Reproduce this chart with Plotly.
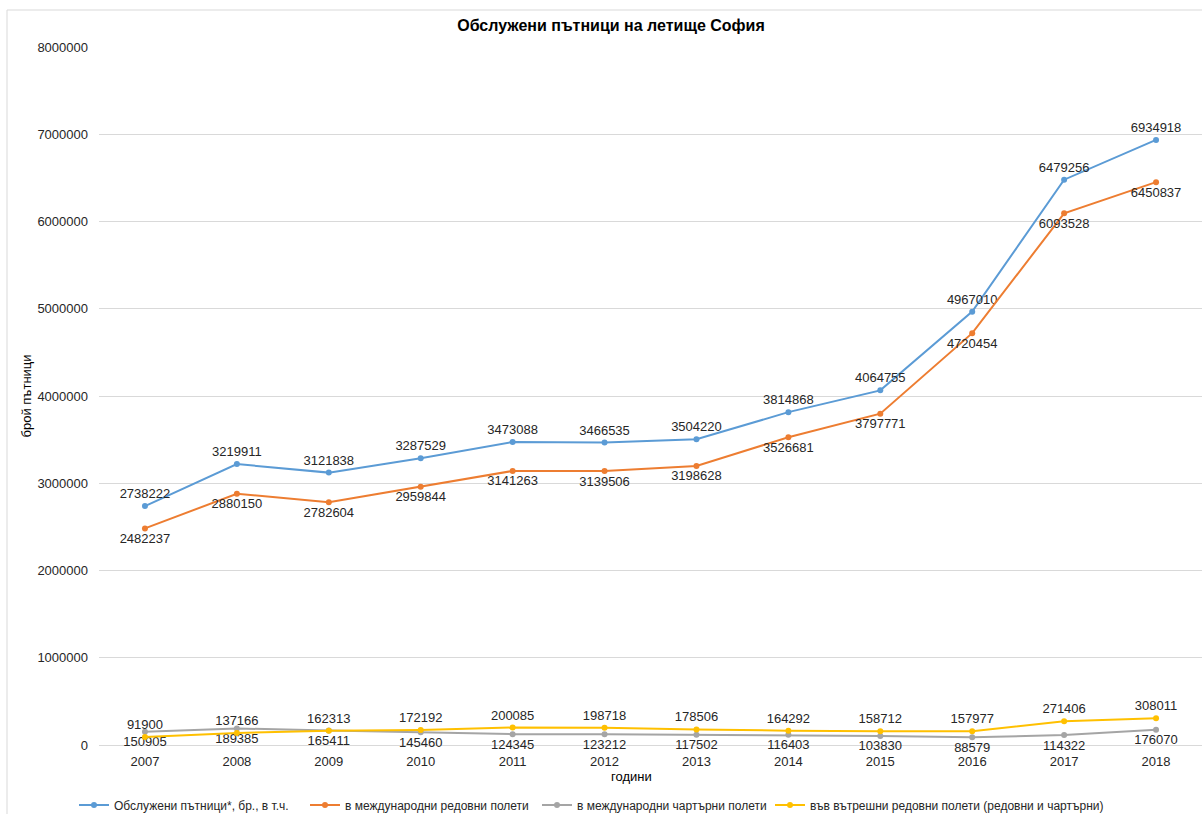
import plotly.graph_objects as go

years = ["2007", "2008", "2009", "2010", "2011", "2012", "2013", "2014", "2015", "2016", "2017", "2018"]
total = [2738222, 3219911, 3121838, 3287529, 3473088, 3466535, 3504220, 3814868, 4064755, 4967010, 6479256, 6934918]
intl_regular = [2482237, 2880150, 2782604, 2959844, 3141263, 3139506, 3198628, 3526681, 3797771, 4720454, 6093528, 6450837]
intl_charter = [150905, 189385, 165411, 145460, 124345, 123212, 117502, 116403, 103830, 88579, 114322, 176070]
domestic = [91900, 137166, 162313, 172192, 200085, 198718, 178506, 164292, 158712, 157977, 271406, 308011]

names = [
    "Обслужени пътници*, бр., в т.ч.",
    "в международни редовни полети",
    "в международни чартърни полети",
    "във вътрешни редовни полети (редовни и чартърни)",
]
colors = ["#5B9BD5", "#ED7D31", "#A5A5A5", "#FFC000"]
series = [total, intl_regular, intl_charter, domestic]
positions = ["top center", "bottom center", "bottom center", "top center"]
legends = ["legend", "legend2", "legend3", "legend4"]

FONT = "Liberation Sans, Arial, sans-serif"

fig = go.Figure()
for name, vals, col, pos, lg in zip(names, series, colors, positions, legends):
    fig.add_trace(go.Scatter(
        x=years, y=vals, name=name, mode="lines+markers+text",
        line=dict(color=col, width=2),
        marker=dict(color=col, size=6),
        text=[str(v) for v in vals], textposition=pos,
        textfont=dict(family=FONT, size=13, color="#262626"),
        cliponaxis=False, legend=lg,
    ))

legend_common = dict(orientation="h", yanchor="middle", y=(745 - 805) / 698, xanchor="left",
                     font=dict(size=12, color="#262626"), itemwidth=30, bgcolor="rgba(0,0,0,0)")
legend_x_px = [74, 305, 537, 770]

fig.update_layout(
    width=1202, height=814,
    margin=dict(l=99, r=0, t=47, b=69, autoexpand=False),
    paper_bgcolor="white", plot_bgcolor="white",
    font=dict(family=FONT, size=13, color="#262626"),
    title=dict(text="<b>Обслужени пътници на летище София</b>", x=611 / 1202, xanchor="center",
               y=1 - 25 / 814, yanchor="middle", font=dict(size=16, color="#000000")),
    showlegend=True,
    legend=dict(x=(legend_x_px[0] - 99) / 1103, **legend_common),
    legend2=dict(x=(legend_x_px[1] - 99) / 1103, **legend_common),
    legend3=dict(x=(legend_x_px[2] - 99) / 1103, **legend_common),
    legend4=dict(x=(legend_x_px[3] - 99) / 1103, **legend_common),
    xaxis=dict(type="category", range=[-0.5, 11.5], showgrid=False, showline=False, ticks="",
               tickfont=dict(size=13, color="#262626"), zeroline=False, ticklabelstandoff=7),
    yaxis=dict(range=[0, 8000000], dtick=1000000, tickformat="d", showgrid=True, gridcolor="#D9D9D9",
               gridwidth=1, zeroline=True, zerolinecolor="#D9D9D9", zerolinewidth=1,
               tickfont=dict(size=13, color="#262626"), ticklabelstandoff=10,
               title=dict(text="брой пътници", font=dict(size=13, color="#000000"), standoff=2)),
    annotations=[dict(text="години", xref="paper", yref="paper", x=(631 - 99) / 1103, y=(745 - 777) / 698,
                      xanchor="center", yanchor="middle", showarrow=False,
                      font=dict(size=13, color="#000000"))],
    shapes=[dict(type="rect", xref="paper", yref="paper", x0=(7 - 99) / 1103, x1=1.2,
                 y0=-0.3, y1=(745 - 10) / 698, line=dict(color="#D9D9D9", width=1), layer="below")],
)

fig.write_html("out.html")
